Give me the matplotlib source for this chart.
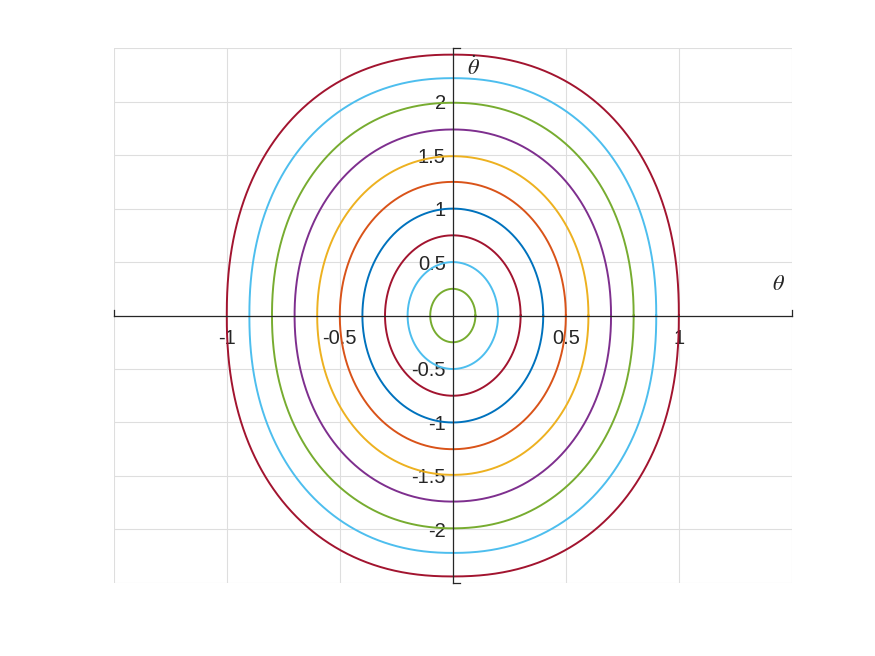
import matplotlib.pyplot as plt
import numpy as np

plt.rcParams['font.family'] = ['Liberation Sans', 'DejaVu Sans']
plt.rcParams['mathtext.fontset'] = 'stix'

# amplitude, peak velocity and "squareness" of each orbit
theta0 = [0.1, 0.2, 0.3, 0.4, 0.5, 0.6, 0.7, 0.8, 0.9, 1.0]
peak = [0.25, 0.50, 0.75, 1.00, 1.25, 1.49, 1.74, 1.99, 2.22, 2.44]
squareness = [2.0, 2.0, 2.0, 2.02, 2.04, 2.06, 2.09, 2.13, 2.18, 2.23]
colors = ['#77ac30', '#4dbeee', '#a2142f', '#0072bd', '#d95319',
          '#edb120', '#7e2f8e', '#77ac30', '#4dbeee', '#a2142f']

xticks = [-1, -0.5, 0.5, 1]
xticklabels = ['-1', '-0.5', '0.5', '1']
yticks = [-2, -1.5, -1, -0.5, 0.5, 1, 1.5, 2]
yticklabels = ['-2', '-1.5', '-1', '-0.5', '0.5', '1', '1.5', '2']

fig = plt.figure(figsize=(8.75, 6.56), dpi=100)
ax = fig.add_axes([0.13, 0.1115, 0.775, 0.815])

t = np.linspace(0, 2 * np.pi, 1000)
for a, p, n, c in zip(theta0, peak, squareness, colors):
    ct, st = np.cos(t), np.sin(t)
    th = a * np.sign(ct) * np.abs(ct) ** (2 / n)
    w = p * np.sign(st) * np.abs(st) ** (2 / n)
    ax.plot(th, w, color=c, lw=1.4)

ax.set_xlim(-1.5, 1.5)
ax.set_ylim(-2.5, 2.5)

# grid
for gx in np.arange(-1.5, 1.51, 0.5):
    ax.axvline(gx, color='#dedede', lw=0.8, zorder=0)
for gy in np.arange(-2.5, 2.51, 0.5):
    ax.axhline(gy, color='#dedede', lw=0.8, zorder=0)

for s in ['top', 'right']:
    ax.spines[s].set_visible(False)
ax.spines['left'].set_position(('data', 0))
ax.spines['bottom'].set_position(('data', 0))
for s in ['left', 'bottom']:
    ax.spines[s].set_color('#262626')
    ax.spines[s].set_linewidth(0.9)

ax.set_xticks(xticks)
ax.set_xticklabels(xticklabels)
ax.set_yticks(yticks)
ax.set_yticklabels(yticklabels)
ax.tick_params(axis='both', length=0, labelsize=14.5, colors='#262626')
ax.tick_params(axis='x', pad=10)
ax.tick_params(axis='y', pad=5)

# end ticks of the axes
ax.plot([-1.5, -1.5], [0, 0.05], color='#262626', lw=0.9, clip_on=False)
ax.plot([1.5, 1.5], [0, 0.05], color='#262626', lw=0.9, clip_on=False)
ax.plot([0, 0.03], [2.5, 2.5], color='#262626', lw=0.9, clip_on=False)
ax.plot([0, 0.03], [-2.5, -2.5], color='#262626', lw=0.9, clip_on=False)

ax.text(1.44, 0.19, r'$\theta$', fontsize=16, color='#262626', ha='center', va='bottom')
ax.text(0.09, 2.2, r'$\dot{\theta}$', fontsize=16, color='#262626', ha='center', va='bottom')

fig.savefig('out.png')
